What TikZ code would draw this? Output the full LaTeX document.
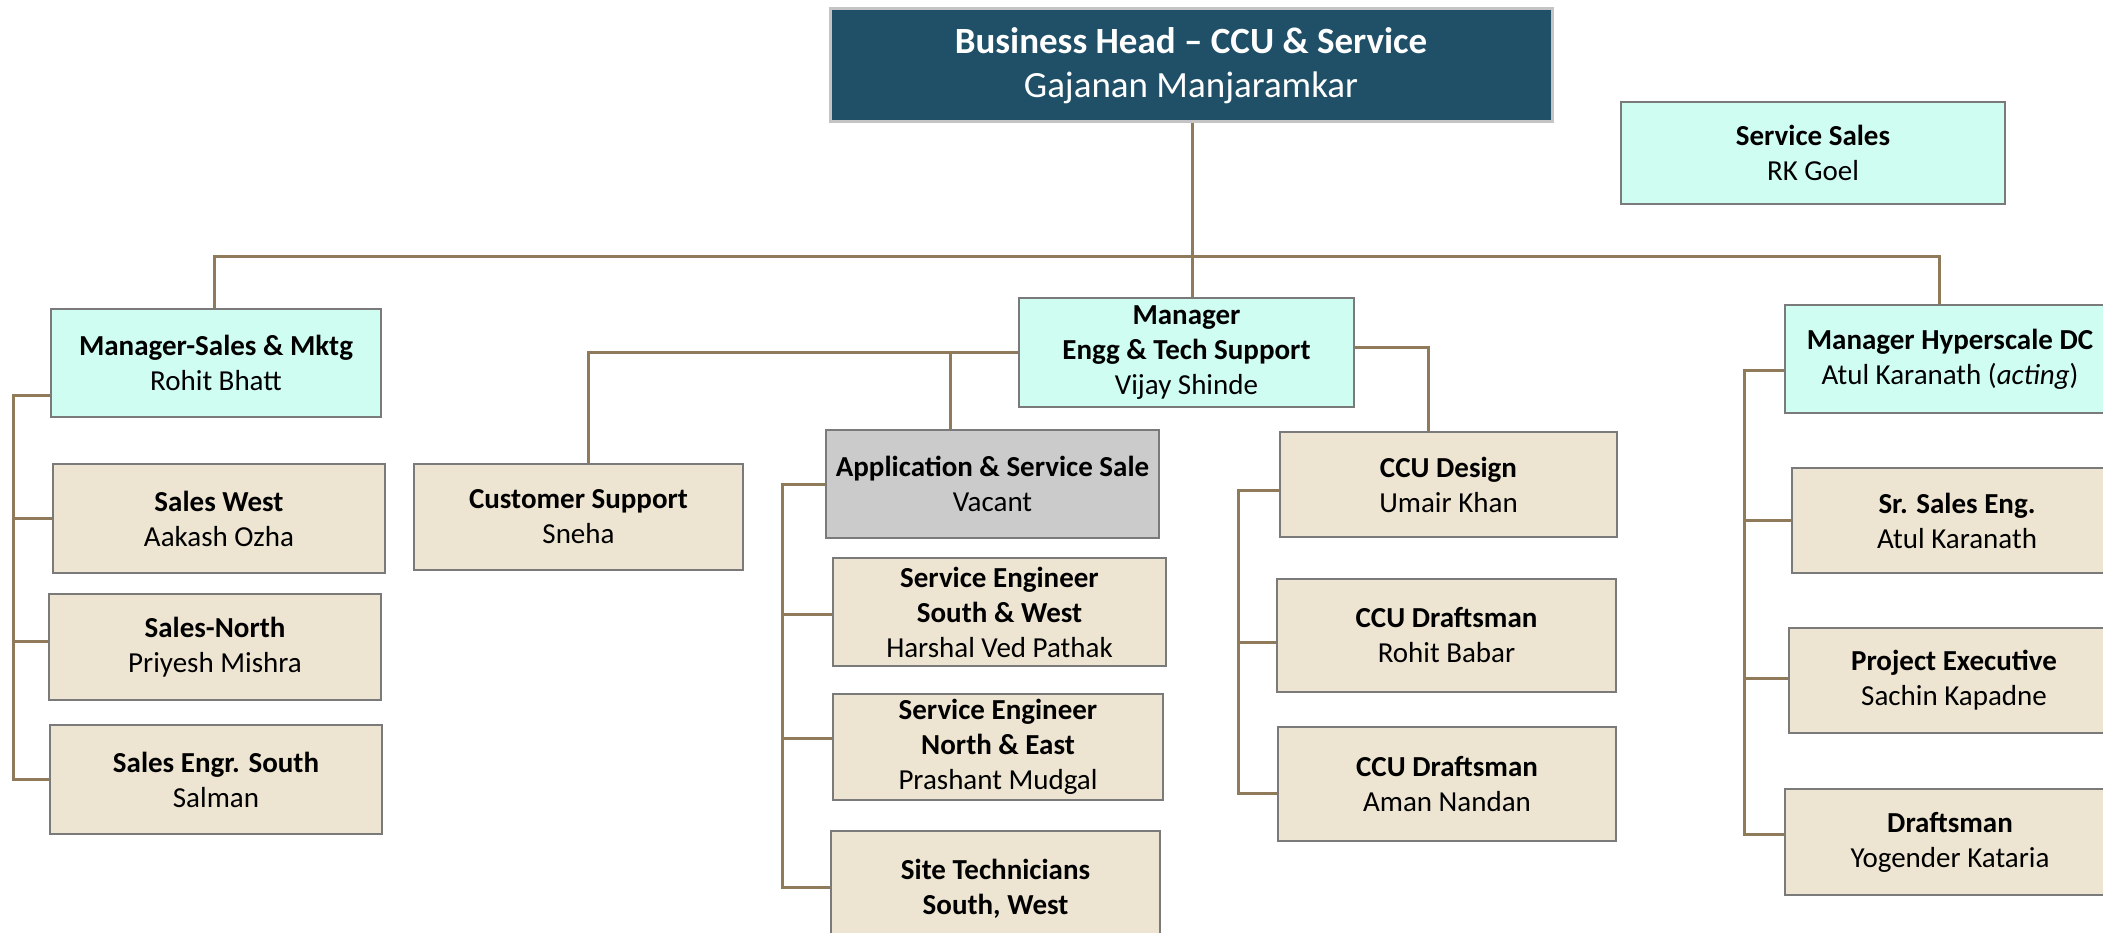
\documentclass[tikz,border=0pt]{standalone}
\usepackage{fontspec}
\setmainfont{Carlito}
\definecolor{headfill}{HTML}{1F5068}
\definecolor{headborder}{HTML}{C4C4C4}
\definecolor{cyanfill}{HTML}{CFFDF2}
\definecolor{beigefill}{HTML}{EDE5D2}
\definecolor{grayfill}{HTML}{CBCBCB}
\definecolor{boxborder}{HTML}{7A7A7A}
\definecolor{connbrown}{HTML}{8F7B5A}
\newcommand\bodyfs{\fontsize{29}{35}\selectfont}
\newcommand\headfs{\fontsize{37}{44}\selectfont}
\begin{document}
\begin{tikzpicture}[x=1pt,y=-1pt,
  box/.style={draw=boxborder, line width=2.5pt, inner sep=0pt, align=center, font=\bodyfs},
  headbox/.style={draw=headborder, fill=headfill, line width=3pt, inner sep=0pt, align=center, font=\headfs, text=white},
  cyanbox/.style={box, fill=cyanfill},
  beigebox/.style={box, fill=beigefill},
  graybox/.style={box, fill=grayfill},
  conn/.style={draw=connbrown, line width=3pt}
]
\useasboundingbox (0,0) rectangle (2103,933);
\clip (0,0) rectangle (2103,933);

% nodes
\node[headbox, minimum width=722, minimum height=113] (top) at (1191,65.5) {\textbf{Business Head – CCU \& Service}\\Gajanan Manjaramkar};
\node[cyanbox, minimum width=384, minimum height=102] (svc) at (1813,153) {\textbf{Service Sales}\\RK Goel};

\node[cyanbox, minimum width=330, minimum height=108] (msales) at (216,363) {\textbf{Manager-Sales \& Mktg}\\Rohit Bhatt};
\node[cyanbox, minimum width=335, minimum height=109] (meng) at (1186.5,352.5) {\textbf{Manager}\\\textbf{Engg \& Tech Support}\\Vijay Shinde};
\node[cyanbox, minimum width=330, minimum height=108] (mhyp) at (1950,359) {\textbf{Manager Hyperscale DC}\\Atul Karanath (\textit{acting})};

\node[beigebox, minimum width=332, minimum height=109] (swest) at (219,518.5) {\textbf{Sales West}\\Aakash Ozha};
\node[beigebox, minimum width=332, minimum height=106] (snorth) at (215,647) {\textbf{Sales-North}\\Priyesh Mishra};
\node[beigebox, minimum width=332, minimum height=109] (ssouth) at (216,779.5) {\textbf{Sales Engr. South}\\Salman};

\node[beigebox, minimum width=329, minimum height=106] (cust) at (578.5,517) {\textbf{Customer Support}\\Sneha};

\node[graybox, minimum width=333, minimum height=108] (app) at (992.5,484) {\textbf{Application \& Service Sale}\\Vacant};
\node[beigebox, minimum width=333, minimum height=108] (se1) at (999.5,612) {\textbf{Service Engineer}\\\textbf{South \& West}\\Harshal Ved Pathak};
\node[beigebox, minimum width=330, minimum height=106] (se2) at (998,747) {\textbf{Service Engineer}\\\textbf{North \& East}\\Prashant Mudgal};
\node[beigebox, minimum width=329, minimum height=146] (site) at (995.5,904) {\textbf{Site Technicians}\\\textbf{South, West}\\\phantom{X}};

\node[beigebox, minimum width=337, minimum height=105] (ccu) at (1448.5,484.5) {\textbf{CCU Design}\\Umair Khan};
\node[beigebox, minimum width=339, minimum height=113] (ccud1) at (1446.5,635.5) {\textbf{CCU Draftsman}\\Rohit Babar};
\node[beigebox, minimum width=338, minimum height=114] (ccud2) at (1447,784) {\textbf{CCU Draftsman}\\Aman Nandan};

\node[beigebox, minimum width=330, minimum height=105] (sr) at (1957,520.5) {\textbf{Sr. Sales Eng.}\\Atul Karanath};
\node[beigebox, minimum width=330, minimum height=105] (proj) at (1954,680.5) {\textbf{Project Executive}\\Sachin Kapadne};
\node[beigebox, minimum width=330, minimum height=106] (draft) at (1950,842) {\textbf{Draftsman}\\Yogender Kataria};

% helper coordinates
\coordinate (bus) at (0,257);
\coordinate (lb) at (13,0);
\coordinate (ab) at (782,0);
\coordinate (cb) at (1238,0);
\coordinate (hb) at (1744,0);

% top level
\draw[conn] ([xshift=1]top.south) -- ([xshift=1]top.south |- meng.north);
\draw[conn] ([xshift=-2]msales.north) -- ([xshift=-2]msales.north |- bus) -- ([xshift=-11]mhyp.north |- bus) -- ([xshift=-11]mhyp.north);

% sales branch
\coordinate (msl) at ([yshift=-32]msales.west);
\coordinate (snb) at ([yshift=6]snorth.west);
\draw[conn] (msl) -| (lb |- ssouth.west) -- (ssouth.west);
\draw[conn] (lb |- swest.west) -- (swest.west);
\draw[conn] (lb |- snb) -- (snb);

% engineering branch
\draw[conn] (meng.west) -| ([xshift=9.5]cust.north);
\draw[conn] ([xshift=-42.5]app.north) -- ([xshift=-42.5]app.north |- meng.west);
\coordinate (sitec) at ([yshift=17]site.west);
\coordinate (se2c) at ([yshift=9]se2.west);
\coordinate (se1c) at ([yshift=-2]se1.west);
\draw[conn] (app.west) -| (ab |- sitec) -- (sitec);
\draw[conn] (ab |- se1c) -- (se1c);
\draw[conn] (ab |- se2c) -- (se2c);

% CCU branch
\draw[conn] ([yshift=5.5]meng.east) -| ([xshift=-20.5]ccu.north);
\coordinate (ccuc) at ([yshift=-5.5]ccu.west);
\coordinate (cd1c) at ([yshift=-6.5]ccud1.west);
\coordinate (cd2c) at ([yshift=-9]ccud2.west);
\draw[conn] (ccuc) -| (cb |- cd2c) -- (cd2c);
\draw[conn] (cb |- cd1c) -- (cd1c);

% hyperscale branch
\coordinate (mhc) at ([yshift=-11]mhyp.west);
\coordinate (prc) at ([yshift=2.5]proj.west);
\coordinate (drc) at ([yshift=8]draft.west);
\draw[conn] (mhc) -| (hb |- drc) -- (drc);
\draw[conn] (hb |- sr.west) -- (sr.west);
\draw[conn] (hb |- prc) -- (prc);
\end{tikzpicture}
\end{document}
